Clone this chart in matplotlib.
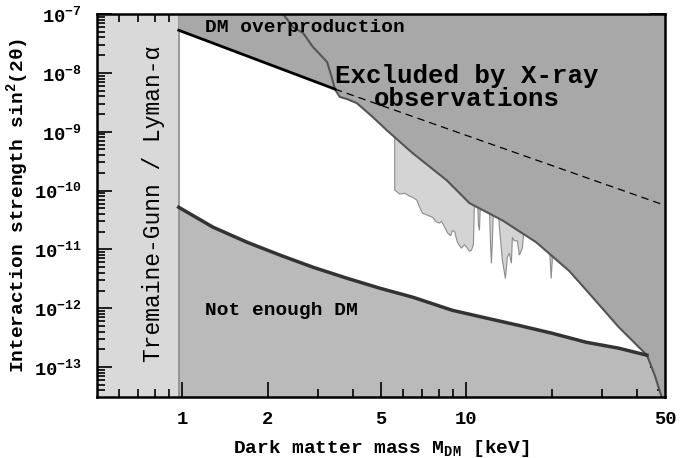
import numpy as np
import matplotlib
matplotlib.use("Agg")
import matplotlib.pyplot as plt

plt.rcParams['font.family'] = ['Liberation Mono', 'DejaVu Sans']
plt.rcParams['font.weight'] = 'bold'
plt.rcParams['mathtext.fontset'] = 'custom'
plt.rcParams['mathtext.rm'] = 'Liberation Mono:bold'
plt.rcParams['mathtext.it'] = 'Liberation Mono:bold'
plt.rcParams['mathtext.bf'] = 'Liberation Mono:bold'

# Tremaine-Gunn / Lyman-alpha lower mass bound (keV)
lyman_x = 0.97

# DM overproduction line (solid part, then dashed continuation)
dm_x = [0.97, 3.44]
dm_y = [5.3e-8, 5.3e-9]
dm_dash_x = [3.44, 50.0]
dm_dash_y = [5.3e-9, 5.6e-11]

# X-ray exclusion boundary
xray_x = [2.26, 2.45, 2.66, 2.88, 3.23, 3.36, 3.44, 3.58, 3.79, 4.11, 4.68,
          5.24, 6.47, 8.51, 10.25, 13.4, 17.6, 23.0, 27.0, 34.4, 43.2, 46.0, 48.7]
xray_y = [1.0e-7, 6.0e-8, 4.75e-8, 2.75e-8, 1.53e-8, 8.2e-9, 5.3e-9, 3.9e-9,
          3.6e-9, 3.06e-9, 1.77e-9, 1.06e-9, 4.3e-10, 1.5e-10, 6.1e-11, 3.1e-11,
          1.32e-11, 4.3e-12, 1.8e-12, 4.75e-13, 1.59e-13, 7.3e-14, 3.06e-14]

# "Not enough DM" lower boundary
low_x = [0.97, 1.28, 1.69, 2.21, 2.88, 3.79, 4.95, 6.47, 8.93, 11.75, 15.3,
         20.0, 26.4, 34.4, 43.2]
low_y = [5.2e-11, 2.39e-11, 1.32e-11, 7.96e-12, 4.98e-12, 3.24e-12, 2.19e-12,
         1.54e-12, 9.2e-13, 6.8e-13, 5.1e-13, 3.76e-13, 2.64e-13, 2.09e-13, 1.59e-13]

# light grey region hanging under the X-ray bound (closed outline)
band_x = [5.59, 5.59, 5.82, 6.06, 6.31, 6.46, 6.68, 6.84, 7.01, 7.30, 7.60, 7.85,
          8.04, 8.17, 8.37, 8.58, 8.79, 8.93, 9.08, 9.30, 9.60, 9.84, 10.0, 10.24,
          10.41, 10.58, 10.67, 10.93, 11.02, 11.11, 11.20, 12.04, 12.14, 12.24,
          12.34, 12.44, 12.95, 13.06, 13.38, 13.71, 13.93, 14.16, 14.39, 14.51,
          14.74, 15.10, 15.35, 15.73, 15.85, 15.98, 19.55, 19.71, 19.87, 20.04,
          20.20, 20.37]
band_y = [1.06e-9, 1.02e-10, 8.7e-11, 9.0e-11, 8.0e-11, 7.7e-11, 6.9e-11, 5.2e-11,
          4.1e-11, 3.8e-11, 3.5e-11, 2.9e-11, 2.8e-11, 3.0e-11, 2.4e-11, 1.9e-11,
          1.7e-11, 2.1e-11, 2.0e-11, 1.3e-11, 1.05e-11, 1.2e-11, 1.1e-11, 9.3e-12,
          9.7e-12, 1.2e-11, 6.9e-11, 7.4e-11, 2.6e-11, 2.1e-11, 6.9e-11, 5.6e-11,
          1.4e-11, 5.8e-12, 1.4e-11, 5.0e-11, 4.3e-11, 2.4e-11, 6.5e-12, 3.2e-12,
          7.4e-12, 8.6e-12, 5.8e-12, 1.6e-11, 1.4e-11, 1.4e-11, 8.0e-12, 1.05e-11,
          1.6e-11, 3.1e-11, 1.7e-11, 6.5e-12, 3.2e-12, 6.5e-12, 1.7e-11, 2.6e-11]

xticks = [1, 2, 5, 10, 50]
xtick_labels = ['1', '2', '5', '10', '50']
xminor = [0.6, 0.7, 0.8, 0.9, 3, 4, 6, 7, 8, 9, 20, 30, 40]
yticks = [1e-13, 1e-12, 1e-11, 1e-10, 1e-9, 1e-8, 1e-7]
ytick_labels = [r'$10^{-13}$', r'$10^{-12}$', r'$10^{-11}$', r'$10^{-10}$',
                r'$10^{-9}$', r'$10^{-8}$', r'$10^{-7}$']

DARK = '#a8a8a8'
LOW = '#bababa'
LYA = '#d9d9d9'
BAND = '#d4d4d4'

fig = plt.figure(figsize=(6.81, 4.58), dpi=100)
ax = fig.add_axes([0.1424, 0.1332, 0.8341, 0.8362])
ax.set_xscale('log')
ax.set_yscale('log')
ax.set_xlim(0.5, 50)
ax.set_ylim(3.1e-14, 1e-7)
ax.set_facecolor(LOW)

ax.axvspan(0.5, lyman_x, color=LYA, lw=0, zorder=1)
ax.axvline(lyman_x, color='#8a8a8a', lw=1.2, zorder=2)

# allowed (white) region
i0 = xray_x.index(3.44)
i1 = xray_x.index(43.2)
wx = low_x + xray_x[i0:i1 + 1][::-1] + dm_x[::-1]
wy = low_y + xray_y[i0:i1 + 1][::-1] + dm_y[::-1]
ax.fill(wx, wy, color='white', lw=0, zorder=1)

# light band
ax.fill(band_x, band_y, facecolor=BAND, edgecolor='#8c8c8c', lw=0.8, zorder=2)

# excluded region (overproduction + X-ray)
ex = [lyman_x] + dm_x + xray_x[i0 + 1:] + [60, 60, lyman_x]
ey = [1e-6] + dm_y + xray_y[i0 + 1:] + [1e-15, 1e-6, 1e-6]
ax.fill(ex, ey, color=DARK, lw=0, zorder=3)

ax.plot(xray_x, xray_y, color='#555555', lw=1.5, zorder=4)
ax.plot(low_x, low_y, color='#333333', lw=2.5, zorder=4)
ax.plot(dm_x, dm_y, color='black', lw=2, zorder=5)
ax.plot(dm_dash_x, dm_dash_y, color='black', lw=0.9, ls=(0, (6, 4)), zorder=5)

ax.text(1.2, 5.8e-8, 'DM overproduction', fontsize=14, fontweight='bold',
        va='center', ha='left', zorder=6)
ax.text(10.0, 5.7e-9, 'Excluded by X-ray\nobservations', fontsize=18.5,
        fontweight='bold', va='center', ha='center', linespacing=0.95, zorder=6)
ax.text(1.2, 9.3e-13, 'Not enough DM', fontsize=14, fontweight='bold',
        va='center', ha='left', zorder=6)
ax.text(0.79, 5.9e-11, 'Tremaine-Gunn / Lyman-α', fontsize=16.5,
        fontweight='normal', rotation=90, va='center', ha='center', zorder=6)

ax.set_xticks(xticks)
ax.set_xticklabels(xtick_labels)
ax.set_xticks(xminor, minor=True)
ax.set_xticklabels([], minor=True)
ax.set_yticks(yticks)
ax.set_yticklabels(ytick_labels)
ax.tick_params(which='both', direction='in', top=True, right=True, width=1.2,
               labelsize=13.5)
ax.tick_params(which='major', length=11)
ax.tick_params(axis='y', which='major', pad=11)
ax.tick_params(axis='x', which='major', pad=10)
ax.tick_params(which='minor', length=6)
for tl in ax.get_xticklabels() + ax.get_yticklabels():
    tl.set_fontweight('bold')
for s in ax.spines.values():
    s.set_linewidth(1.8)
    s.set_zorder(7)

ax.set_xlabel(r'Dark matter mass M$_{DM}$ [keV]', fontsize=14, fontweight='bold')
ax.set_ylabel(r'Interaction strength sin$^{2}$(2θ)', fontsize=14,
              fontweight='bold')
ax.xaxis.set_label_coords(0.5, -0.108)
ax.yaxis.set_label_coords(-0.116, 0.5)

fig.savefig('out.png', dpi=100)
